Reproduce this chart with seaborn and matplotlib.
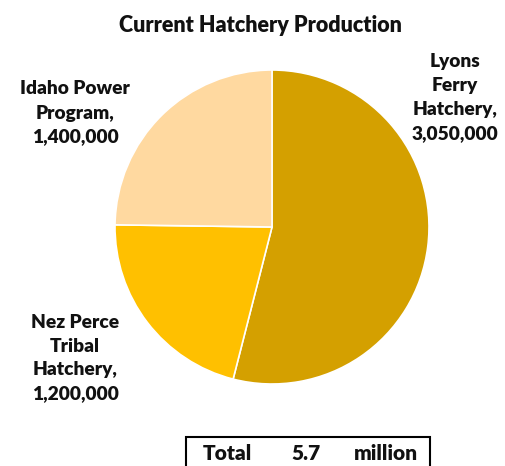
import matplotlib
matplotlib.use("Agg")
import matplotlib.pyplot as plt
import seaborn as sns

# data
programs = ["Lyons\nFerry\nHatchery", "Nez Perce\nTribal\nHatchery", "Idaho Power\nProgram"]
fish = [3050000, 1200000, 1400000]
colors = ["#D4A000", "#FFC000", "#FFD9A0"]
total_millions = 5.7

sns.set_theme(style="white")
plt.rcParams["font.family"] = ["Lato", "DejaVu Sans"]

W, H = 506, 466
fig = plt.figure(figsize=(W / 100, H / 100), dpi=100)
cx, cy, r = 272, 227, 157
ax = fig.add_axes([(cx - r) / W, (H - cy - r) / H, 2 * r / W, 2 * r / H])

wedges, _ = ax.pie(
    fish,
    colors=colors,
    startangle=90,
    counterclock=False,
    wedgeprops=dict(edgecolor="white", linewidth=1.2),
)
ax.set_xlim(-1, 1)
ax.set_ylim(-1, 1)
ax.axis("off")

# label spots in pixel space (x, y from top)
label_pos = [(455, 98), (75, 358), (75, 113)]
for name, val, (px, py) in zip(programs, fish, label_pos):
    fig.text(px / W, 1 - py / H, f"{name},\n{val:,}", ha="center", va="center",
             fontsize=13.8, fontweight="heavy", linespacing=1.5, color="#111111")

fig.text(260 / W, 1 - 25 / H, "Current Hatchery Production", ha="center", va="center",
         fontsize=15.5, fontweight="heavy", color="#111111")

# total box at the bottom
box = plt.Rectangle((186 / W, -0.02), 244 / W, (466 - 437) / H + 0.02,
                    transform=fig.transFigure, fill=False, edgecolor="black",
                    linewidth=1.5, clip_on=False)
fig.add_artist(box)
for txt, px in zip(["Total", f"{total_millions}", "million"], [227, 306, 386]):
    fig.text(px / W, 1 - 453 / H, txt, ha="center", va="center",
             fontsize=15, fontweight="heavy", color="#111111")

fig.savefig("out.png", dpi=100)
